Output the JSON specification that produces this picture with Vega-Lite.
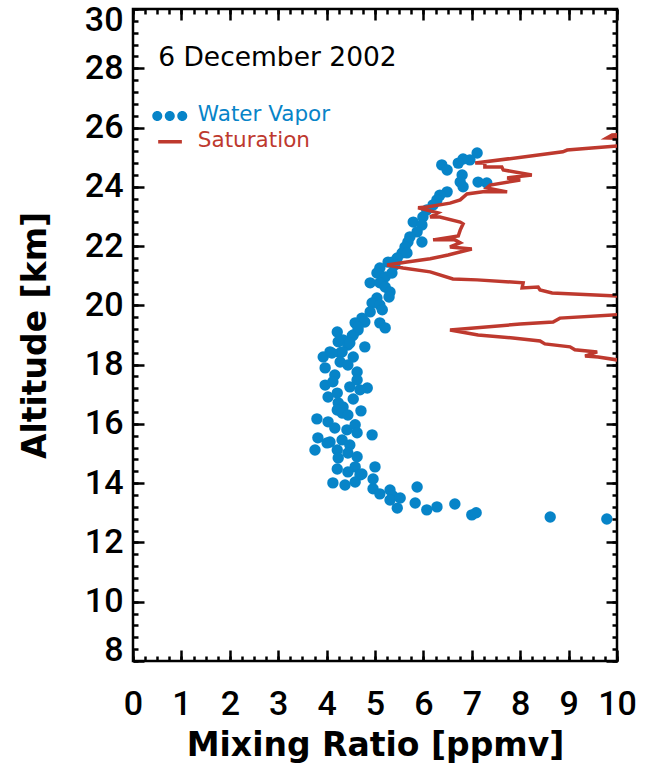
{
  "$schema": "https://vega.github.io/schema/vega-lite/v6.json",
  "width": 484,
  "height": 652,
  "autosize": {"type": "none"},
  "padding": {"left": 133, "top": 9, "right": 28, "bottom": 110},
  "background": "white",
  "config": {"view": {"stroke": "black", "strokeWidth": 2.5}},
  "datasets": {
    "vapor": [
      {"ratio":7.11,"altitude":25.14},{"ratio":6.96,"altitude":24.91},{"ratio":6.82,"altitude":24.94},{"ratio":6.72,"altitude":24.80},
      {"ratio":6.38,"altitude":24.74},{"ratio":6.49,"altitude":24.57},{"ratio":6.80,"altitude":24.40},{"ratio":6.76,"altitude":24.16},
      {"ratio":6.82,"altitude":24.00},{"ratio":7.13,"altitude":24.16},{"ratio":7.31,"altitude":24.13},{"ratio":6.49,"altitude":23.83},
      {"ratio":6.34,"altitude":23.72},{"ratio":6.28,"altitude":23.56},{"ratio":6.20,"altitude":23.39},{"ratio":6.07,"altitude":23.22},
      {"ratio":5.99,"altitude":22.98},{"ratio":5.79,"altitude":22.81},{"ratio":5.97,"altitude":22.71},{"ratio":5.87,"altitude":22.48},
      {"ratio":5.72,"altitude":22.31},{"ratio":5.68,"altitude":22.14},{"ratio":5.97,"altitude":22.14},{"ratio":5.62,"altitude":21.97},
      {"ratio":5.56,"altitude":21.77},{"ratio":5.66,"altitude":21.77},{"ratio":5.46,"altitude":21.60},{"ratio":5.35,"altitude":21.46},
      {"ratio":5.41,"altitude":21.36},{"ratio":5.27,"altitude":21.46},{"ratio":5.10,"altitude":21.26},{"ratio":5.04,"altitude":21.09},
      {"ratio":5.21,"altitude":20.96},{"ratio":5.35,"altitude":21.09},{"ratio":4.90,"altitude":20.76},{"ratio":5.10,"altitude":20.76},
      {"ratio":5.21,"altitude":20.62},{"ratio":5.31,"altitude":20.45},{"ratio":5.29,"altitude":20.28},{"ratio":5.04,"altitude":20.25},
      {"ratio":4.94,"altitude":20.08},{"ratio":5.10,"altitude":20.01},{"ratio":5.15,"altitude":19.85},{"ratio":4.90,"altitude":19.78},
      {"ratio":4.73,"altitude":19.57},{"ratio":4.59,"altitude":19.41},{"ratio":4.79,"altitude":19.44},{"ratio":5.10,"altitude":19.41},
      {"ratio":5.21,"altitude":19.24},{"ratio":4.65,"altitude":19.17},{"ratio":4.22,"altitude":19.10},{"ratio":4.53,"altitude":18.97},
      {"ratio":4.34,"altitude":18.83},{"ratio":4.24,"altitude":18.77},{"ratio":4.44,"altitude":18.66},{"ratio":4.79,"altitude":18.60},
      {"ratio":4.07,"altitude":18.43},{"ratio":4.28,"altitude":18.39},{"ratio":3.93,"altitude":18.26},{"ratio":4.55,"altitude":18.26},
      {"ratio":4.55,"altitude":19.00},{"ratio":4.65,"altitude":19.27},{"ratio":4.48,"altitude":18.73},{"ratio":4.32,"altitude":18.43},
      {"ratio":4.11,"altitude":18.39},{"ratio":3.97,"altitude":17.89},{"ratio":4.28,"altitude":18.09},{"ratio":4.44,"altitude":17.99},
      {"ratio":4.63,"altitude":17.75},{"ratio":4.17,"altitude":17.65},{"ratio":3.97,"altitude":17.31},{"ratio":4.63,"altitude":17.48},
      {"ratio":4.13,"altitude":17.42},{"ratio":4.48,"altitude":17.25},{"ratio":4.84,"altitude":17.21},{"ratio":4.69,"altitude":17.15},
      {"ratio":4.03,"altitude":16.91},{"ratio":4.22,"altitude":17.04},{"ratio":4.55,"altitude":16.84},{"ratio":4.24,"altitude":16.71},
      {"ratio":4.34,"altitude":16.57},{"ratio":4.22,"altitude":16.47},{"ratio":4.32,"altitude":16.37},{"ratio":4.44,"altitude":16.30},
      {"ratio":4.71,"altitude":16.44},{"ratio":3.80,"altitude":16.17},{"ratio":4.03,"altitude":16.07},{"ratio":4.17,"altitude":15.86},
      {"ratio":4.42,"altitude":15.80},{"ratio":4.59,"altitude":15.97},{"ratio":4.63,"altitude":15.70},{"ratio":4.94,"altitude":15.63},
      {"ratio":3.82,"altitude":15.53},{"ratio":4.07,"altitude":15.39},{"ratio":4.32,"altitude":15.46},{"ratio":4.48,"altitude":15.29},
      {"ratio":3.76,"altitude":15.12},{"ratio":4.22,"altitude":15.12},{"ratio":4.44,"altitude":15.02},{"ratio":4.63,"altitude":14.89},
      {"ratio":4.01,"altitude":15.36},{"ratio":4.24,"altitude":14.85},{"ratio":4.22,"altitude":14.48},{"ratio":4.59,"altitude":14.55},
      {"ratio":4.44,"altitude":14.38},{"ratio":4.69,"altitude":14.28},{"ratio":4.59,"altitude":14.04},{"ratio":4.13,"altitude":14.01},
      {"ratio":4.38,"altitude":13.94},{"ratio":5.00,"altitude":14.55},{"ratio":4.96,"altitude":14.14},{"ratio":4.73,"altitude":14.31},
      {"ratio":4.96,"altitude":13.81},{"ratio":5.10,"altitude":13.64},{"ratio":5.31,"altitude":13.77},{"ratio":5.37,"altitude":13.57},
      {"ratio":5.31,"altitude":13.43},{"ratio":5.52,"altitude":13.50},{"ratio":5.46,"altitude":13.16},{"ratio":5.87,"altitude":13.87},
      {"ratio":5.83,"altitude":13.33},{"ratio":6.07,"altitude":13.10},{"ratio":6.28,"altitude":13.20},{"ratio":6.65,"altitude":13.30},
      {"ratio":7.00,"altitude":12.93},{"ratio":7.09,"altitude":13.00},{"ratio":8.62,"altitude":12.86},{"ratio":9.79,"altitude":12.79}
    ],
    "sat": [
      {"i":1,"ratio":10.48,"altitude":18.09},{"i":2,"ratio":10.0,"altitude":18.16},{"i":3,"ratio":9.61,"altitude":18.26},
      {"i":4,"ratio":9.34,"altitude":18.29},{"i":5,"ratio":9.59,"altitude":18.43},{"i":6,"ratio":9.13,"altitude":18.50},
      {"i":7,"ratio":9.03,"altitude":18.60},{"i":8,"ratio":8.51,"altitude":18.70},{"i":9,"ratio":8.41,"altitude":18.80},
      {"i":10,"ratio":7.85,"altitude":18.90},{"i":11,"ratio":7.13,"altitude":19.00},{"i":12,"ratio":6.55,"altitude":19.17},
      {"i":13,"ratio":8.00,"altitude":19.37},{"i":14,"ratio":8.68,"altitude":19.44},{"i":15,"ratio":8.82,"altitude":19.57},
      {"i":16,"ratio":10.0,"altitude":19.68},{"i":17,"ratio":10.89,"altitude":19.74},{"i":18,"ratio":11.7,"altitude":20.01},
      {"i":19,"ratio":10.89,"altitude":20.25},{"i":20,"ratio":10.0,"altitude":20.32},{"i":21,"ratio":8.66,"altitude":20.42},
      {"i":22,"ratio":8.41,"altitude":20.52},{"i":23,"ratio":8.37,"altitude":20.62},{"i":24,"ratio":8.04,"altitude":20.59},
      {"i":25,"ratio":8.06,"altitude":20.76},{"i":26,"ratio":7.11,"altitude":20.86},{"i":27,"ratio":6.61,"altitude":20.89},
      {"i":28,"ratio":6.14,"altitude":21.13},{"i":29,"ratio":5.58,"altitude":21.26},{"i":30,"ratio":5.25,"altitude":21.36},
      {"i":31,"ratio":5.66,"altitude":21.46},{"i":32,"ratio":6.14,"altitude":21.57},{"i":33,"ratio":6.51,"altitude":21.70},
      {"i":34,"ratio":7.00,"altitude":21.90},{"i":35,"ratio":6.55,"altitude":21.97},{"i":36,"ratio":6.76,"altitude":22.11},
      {"i":37,"ratio":6.65,"altitude":22.21},{"i":38,"ratio":6.20,"altitude":22.21},{"i":39,"ratio":6.72,"altitude":22.34},
      {"i":40,"ratio":6.76,"altitude":22.54},{"i":41,"ratio":6.82,"altitude":22.75},{"i":42,"ratio":6.76,"altitude":22.81},
      {"i":43,"ratio":6.34,"altitude":22.98},{"i":44,"ratio":6.14,"altitude":22.98},{"i":45,"ratio":6.30,"altitude":23.12},
      {"i":46,"ratio":5.89,"altitude":23.29},{"i":47,"ratio":6.07,"altitude":23.32},{"i":48,"ratio":6.55,"altitude":23.45},
      {"i":49,"ratio":6.76,"altitude":23.56},{"i":50,"ratio":6.90,"altitude":23.76},{"i":51,"ratio":7.23,"altitude":23.83},
      {"i":52,"ratio":7.73,"altitude":23.83},{"i":53,"ratio":7.31,"altitude":23.96},{"i":54,"ratio":7.38,"altitude":24.06},
      {"i":55,"ratio":8.00,"altitude":24.23},{"i":56,"ratio":7.73,"altitude":24.30},{"i":57,"ratio":8.24,"altitude":24.40},
      {"i":58,"ratio":7.65,"altitude":24.57},{"i":59,"ratio":7.62,"altitude":24.67},{"i":60,"ratio":7.27,"altitude":24.67},
      {"i":61,"ratio":7.27,"altitude":24.80},{"i":62,"ratio":7.07,"altitude":24.80},{"i":63,"ratio":8.88,"altitude":25.18},
      {"i":64,"ratio":8.97,"altitude":25.24},{"i":65,"ratio":9.48,"altitude":25.31},{"i":66,"ratio":10.0,"altitude":25.38},
      {"i":67,"ratio":10.89,"altitude":25.45},{"i":68,"ratio":10.89,"altitude":25.58},{"i":69,"ratio":9.79,"altitude":25.65},
      {"i":70,"ratio":9.90,"altitude":25.75},{"i":71,"ratio":10.89,"altitude":25.82}
    ]
  },
  "resolve": {"axis": {"x": "independent", "y": "independent"}},
  "layer": [
    {
      "data": {"name": "vapor"},
      "mark": {"type": "point", "filled": true, "color": "#0784c8", "opacity": 1, "size": 130},
      "encoding": {
        "x": {"field": "ratio", "type": "quantitative",
          "scale": {"domain": [0, 10], "nice": false, "zero": false},
          "axis": {"orient": "bottom", "values": [0,1,2,3,4,5,6,7,8,9,10], "ticks": false, "tickSize": 0, "domain": false, "grid": false,
            "labelFont": "Roboto", "labelFontSize": 34, "labelFontWeight": 500, "labelColor": "black", "labelPadding": 26, "labelOverlap": false, "labelFlush": false,
            "title": "Mixing Ratio [ppmv]", "titleFont": "DejaVu Sans", "titleFontSize": 33, "titleFontWeight": "bold", "titleColor": "black",
            "titleX": 242, "titleY": 84, "titleAlign": "center", "titleBaseline": "middle", "zindex": 2}},
        "y": {"field": "altitude", "type": "quantitative",
          "scale": {"domain": [8, 30], "nice": false, "zero": false},
          "axis": {"orient": "left", "values": [8,10,12,14,16,18,20,22,24,26,28,30], "ticks": false, "tickSize": 0, "domain": false, "grid": false,
            "labelFont": "Roboto", "labelFontSize": 34, "labelFontWeight": 500, "labelColor": "black", "labelPadding": 10, "labelOverlap": false, "labelFlush": true, "labelFlushOffset": 6,
            "title": "Altitude [km]", "titleFont": "DejaVu Sans", "titleFontSize": 33, "titleFontWeight": "bold", "titleColor": "black",
            "titleX": -98, "titleY": 326, "titleAngle": 270, "titleAlign": "center", "titleBaseline": "middle", "zindex": 2}}
      }
    },
    {
      "data": {"name": "sat"},
      "mark": {"type": "line", "color": "#be392e", "strokeWidth": 3.5, "clip": true},
      "encoding": {
        "x": {"field": "ratio", "type": "quantitative",
          "axis": {"orient": "bottom", "values": [0,1,2,3,4,5,6,7,8,9,10], "labels": false, "domain": false, "grid": false,
            "ticks": true, "tickSize": -11, "tickWidth": 2.5, "tickColor": "black", "title": null, "zindex": 2}},
        "y": {"field": "altitude", "type": "quantitative",
          "axis": {"orient": "left", "values": [8,10,12,14,16,18,20,22,24,26,28,30], "labels": false, "domain": false, "grid": false,
            "ticks": true, "tickSize": -11, "tickWidth": 2.5, "tickColor": "black", "title": null, "zindex": 2}},
        "order": {"field": "i", "type": "quantitative"}
      }
    },
    {
      "data": {"name": "vapor"},
      "mark": {"type": "point", "opacity": 0},
      "encoding": {
        "x": {"field": "ratio", "type": "quantitative",
          "axis": {"orient": "bottom", "values": [0,0.25,0.5,0.75,1,1.25,1.5,1.75,2,2.25,2.5,2.75,3,3.25,3.5,3.75,4,4.25,4.5,4.75,5,5.25,5.5,5.75,6,6.25,6.5,6.75,7,7.25,7.5,7.75,8,8.25,8.5,8.75,9,9.25,9.5,9.75,10],
            "labels": false, "domain": false, "grid": false, "ticks": true, "tickSize": -5, "tickWidth": 2.5, "tickColor": "black", "title": null, "zindex": 2}},
        "y": {"field": "altitude", "type": "quantitative",
          "axis": {"orient": "left", "values": [8,8.4,8.8,9.2,9.6,10,10.4,10.8,11.2,11.6,12,12.4,12.8,13.2,13.6,14,14.4,14.8,15.2,15.6,16,16.4,16.8,17.2,17.6,18,18.4,18.8,19.2,19.6,20,20.4,20.8,21.2,21.6,22,22.4,22.8,23.2,23.6,24,24.4,24.8,25.2,25.6,26,26.4,26.8,27.2,27.6,28,28.4,28.8,29.2,29.6,30],
            "labels": false, "domain": false, "grid": false, "ticks": true, "tickSize": -5, "tickWidth": 2.5, "tickColor": "black", "title": null, "zindex": 2}}
      }
    },
    {
      "data": {"name": "vapor"},
      "mark": {"type": "point", "opacity": 0},
      "encoding": {
        "x": {"field": "ratio", "type": "quantitative",
          "axis": {"orient": "top", "values": [0,1,2,3,4,5,6,7,8,9,10], "labels": false, "domain": false, "grid": false,
            "ticks": true, "tickSize": -11, "tickWidth": 2.5, "tickColor": "black", "title": null, "zindex": 2}},
        "y": {"field": "altitude", "type": "quantitative",
          "axis": {"orient": "right", "values": [8,10,12,14,16,18,20,22,24,26,28,30], "labels": false, "domain": false, "grid": false,
            "ticks": true, "tickSize": -11, "tickWidth": 2.5, "tickColor": "black", "title": null, "zindex": 2}}
      }
    },
    {
      "data": {"name": "vapor"},
      "mark": {"type": "point", "opacity": 0},
      "encoding": {
        "x": {"field": "ratio", "type": "quantitative",
          "axis": {"orient": "top", "values": [0,0.25,0.5,0.75,1,1.25,1.5,1.75,2,2.25,2.5,2.75,3,3.25,3.5,3.75,4,4.25,4.5,4.75,5,5.25,5.5,5.75,6,6.25,6.5,6.75,7,7.25,7.5,7.75,8,8.25,8.5,8.75,9,9.25,9.5,9.75,10],
            "labels": false, "domain": false, "grid": false, "ticks": true, "tickSize": -5, "tickWidth": 2.5, "tickColor": "black", "title": null, "zindex": 2}},
        "y": {"field": "altitude", "type": "quantitative",
          "axis": {"orient": "right", "values": [8,8.4,8.8,9.2,9.6,10,10.4,10.8,11.2,11.6,12,12.4,12.8,13.2,13.6,14,14.4,14.8,15.2,15.6,16,16.4,16.8,17.2,17.6,18,18.4,18.8,19.2,19.6,20,20.4,20.8,21.2,21.6,22,22.4,22.8,23.2,23.6,24,24.4,24.8,25.2,25.6,26,26.4,26.8,27.2,27.6,28,28.4,28.8,29.2,29.6,30],
            "labels": false, "domain": false, "grid": false, "ticks": true, "tickSize": -5, "tickWidth": 2.5, "tickColor": "black", "title": null, "zindex": 2}}
      }
    },
    {
      "data": {"values": [{"label": "6 December 2002"}]},
      "mark": {"type": "text", "font": "DejaVu Sans", "fontSize": 26.5, "color": "black", "align": "left", "baseline": "middle"},
      "encoding": {
        "text": {"field": "label", "type": "nominal"},
        "x": {"datum": 0.52, "type": "quantitative", "axis": null},
        "y": {"datum": 28.35, "type": "quantitative", "axis": null}
      }
    },
    {
      "data": {"values": [{"label": "Water Vapor"}]},
      "mark": {"type": "text", "font": "DejaVu Sans", "fontSize": 21.5, "color": "#0784c8", "align": "left", "baseline": "middle"},
      "encoding": {
        "text": {"field": "label", "type": "nominal"},
        "x": {"datum": 1.34, "type": "quantitative", "axis": null},
        "y": {"datum": 26.42, "type": "quantitative", "axis": null}
      }
    },
    {
      "data": {"values": [{"label": "Saturation"}]},
      "mark": {"type": "text", "font": "DejaVu Sans", "fontSize": 21.5, "color": "#be392e", "align": "left", "baseline": "middle"},
      "encoding": {
        "text": {"field": "label", "type": "nominal"},
        "x": {"datum": 1.34, "type": "quantitative", "axis": null},
        "y": {"datum": 25.55, "type": "quantitative", "axis": null}
      }
    },
    {
      "data": {"values": [{"series": "Water Vapor"}]},
      "mark": {"type": "point", "filled": true, "opacity": 1, "color": "#0784c8", "size": 1225,
        "shape": "M-1,0a0.286,0.286 0 1,0 0.572,0a0.286,0.286 0 1,0 -0.572,0Z M-0.286,0a0.286,0.286 0 1,0 0.572,0a0.286,0.286 0 1,0 -0.572,0Z M0.428,0a0.286,0.286 0 1,0 0.572,0a0.286,0.286 0 1,0 -0.572,0Z"},
      "encoding": {
        "x": {"datum": 0.76, "type": "quantitative", "axis": null},
        "y": {"datum": 26.39, "type": "quantitative", "axis": null}
      }
    },
    {
      "data": {"values": [{"series": "Saturation"}]},
      "mark": {"type": "rule", "color": "#be392e", "strokeWidth": 3.5},
      "encoding": {
        "x": {"datum": 0.52, "type": "quantitative", "axis": null},
        "x2": {"datum": 1.01},
        "y": {"datum": 25.52, "type": "quantitative", "axis": null}
      }
    }
  ]
}
